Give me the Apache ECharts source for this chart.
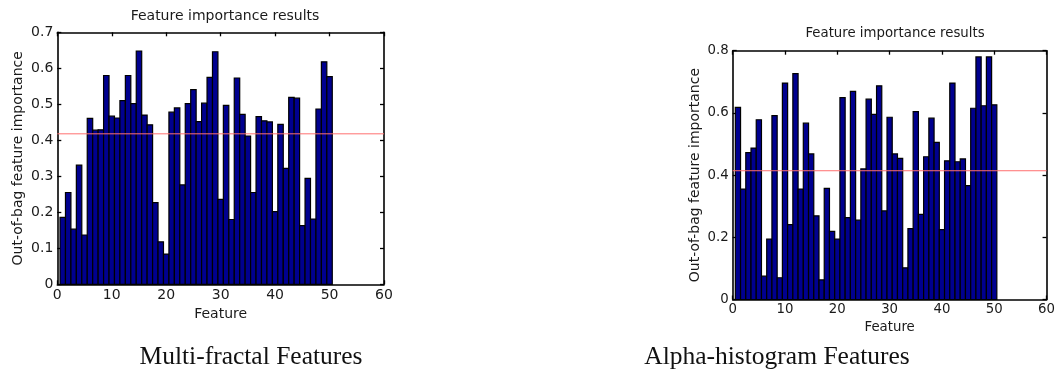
<!DOCTYPE html>
<html>
<head>
<meta charset="utf-8">
<script src="https://cdn.jsdelivr.net/npm/echarts@6/dist/echarts.min.js"></script>
<style>
html,body{margin:0;padding:0;background:#fff;}
#chart{width:1058px;height:372px;}
</style>
</head>
<body>
<div id="chart"></div>
<script>
const features = [1,2,3,4,5,6,7,8,9,10,11,12,13,14,15,16,17,18,19,20,21,22,23,24,25,26,27,28,29,30,31,32,33,34,35,36,37,38,39,40,41,42,43,44,45,46,47,48,49,50];
const multiFractal = [0.186,0.255,0.153,0.331,0.137,0.461,0.428,0.429,0.580,0.467,0.462,0.510,0.580,0.502,0.648,0.470,0.443,0.227,0.118,0.084,0.478,0.490,0.276,0.502,0.541,0.452,0.503,0.575,0.646,0.236,0.497,0.180,0.573,0.472,0.412,0.255,0.466,0.454,0.451,0.202,0.444,0.322,0.519,0.517,0.163,0.294,0.181,0.487,0.618,0.577];
const alphaHist = [0.618,0.355,0.472,0.487,0.578,0.075,0.194,0.591,0.070,0.696,0.241,0.726,0.355,0.567,0.468,0.269,0.063,0.357,0.219,0.194,0.649,0.263,0.669,0.255,0.420,0.644,0.595,0.687,0.285,0.586,0.468,0.454,0.102,0.228,0.604,0.274,0.459,0.583,0.505,0.225,0.446,0.696,0.443,0.452,0.366,0.615,0.780,0.623,0.780,0.626];
const thresholdMF = 0.418;
const thresholdAH = 0.414;
const chartTitle = 'Feature importance results';
const xName = 'Feature';
const yName = 'Out-of-bag feature importance';
const captions = ['Multi-fractal Features', 'Alpha-histogram Features'];
const xRange = [0, 60, 10];
const yRangeMF = [0, 0.7, 0.1];
const yRangeAH = [0, 0.8, 0.2];

const chart = echarts.init(document.getElementById('chart'), null, {renderer: 'canvas'});
const TXT = '#1a1a1a';
const FONT = 'DejaVu Sans';

function renderBar(params, api) {
  const x = api.value(0), y = api.value(1);
  const p0 = api.coord([x - 0.5, y]);
  const p1 = api.coord([x + 0.5, 0]);
  return {
    type: 'rect',
    shape: {x: p0[0], y: p0[1], width: p1[0] - p0[0], height: p1[1] - p0[1]},
    style: {fill: '#00008f', stroke: '#000000', lineWidth: 1.2}
  };
}

function xAx(grid, pos, show, fs) {
  return {
    type: 'value', gridIndex: grid, position: pos,
    min: xRange[0], max: xRange[1], interval: xRange[2],
    axisLine: {show: true, onZero: false, lineStyle: {color: '#000', width: 1.6}},
    axisTick: {show: true, inside: true, length: 4, lineStyle: {color: '#000', width: 1.3}},
    axisLabel: {show: show, margin: 4, color: TXT, fontFamily: FONT, fontSize: fs},
    splitLine: {show: false},
    name: show ? xName : '', nameLocation: 'middle', nameGap: 21,
    nameTextStyle: {color: TXT, fontFamily: FONT, fontSize: fs}
  };
}
function yAx(grid, pos, show, r, fs, gap) {
  return {
    type: 'value', gridIndex: grid, position: pos,
    min: r[0], max: r[1], interval: r[2],
    axisLine: {show: true, onZero: false, lineStyle: {color: '#000', width: 1.6}},
    axisTick: {show: true, inside: true, length: 4, lineStyle: {color: '#000', width: 1.3}},
    axisLabel: {show: show, margin: 4, color: TXT, fontFamily: FONT, fontSize: fs,
      formatter: v => String(+v.toFixed(1))},
    splitLine: {show: false},
    name: show ? yName : '', nameLocation: 'middle', nameGap: gap,
    nameTextStyle: {color: TXT, fontFamily: FONT, fontSize: 14}
  };
}

const option = {
  animation: false,
  backgroundColor: '#ffffff',
  title: [
    {text: chartTitle, left: 220, top: 4, textAlign: 'center',
     textStyle: {color: TXT, fontFamily: FONT, fontSize: 14, fontWeight: 'normal'}},
    {text: chartTitle, left: 890, top: 22, textAlign: 'center',
     textStyle: {color: TXT, fontFamily: FONT, fontSize: 13.3, fontWeight: 'normal'}}
  ],
  grid: [
    {left: 57.3, top: 32.3, width: 326.7, height: 252},
    {left: 732.7, top: 50.7, width: 314.3, height: 248.8}
  ],
  xAxis: [
    xAx(0, 'bottom', true, 14), xAx(0, 'top', false, 14),
    xAx(1, 'bottom', true, 13.3), xAx(1, 'top', false, 13.3)
  ],
  yAxis: [
    yAx(0, 'left', true, yRangeMF, 14, 32), yAx(0, 'right', false, yRangeMF, 14, 32),
    yAx(1, 'left', true, yRangeAH, 13.3, 30), yAx(1, 'right', false, yRangeAH, 13.3, 30)
  ],
  series: [
    {type: 'custom', xAxisIndex: 0, yAxisIndex: 0, renderItem: renderBar,
     encode: {x: 0, y: 1}, data: features.map((f, i) => [f, multiFractal[i]]), z: 2},
    {type: 'line', xAxisIndex: 0, yAxisIndex: 0, symbol: 'none', silent: true,
     lineStyle: {color: '#ff7070', width: 1}, data: [[xRange[0], thresholdMF], [xRange[1], thresholdMF]], z: 5},
    {type: 'custom', xAxisIndex: 2, yAxisIndex: 2, renderItem: renderBar,
     encode: {x: 0, y: 1}, data: features.map((f, i) => [f, alphaHist[i]]), z: 2},
    {type: 'line', xAxisIndex: 2, yAxisIndex: 2, symbol: 'none', silent: true,
     lineStyle: {color: '#ff7070', width: 1}, data: [[xRange[0], thresholdAH], [xRange[1], thresholdAH]], z: 5}
  ],
  graphic: [
    {type: 'text', x: 251, y: 357, style: {text: captions[0], font: '25.5px "Liberation Serif"', fill: '#111', textAlign: 'center', textVerticalAlign: 'middle'}},
    {type: 'text', x: 777, y: 357, style: {text: captions[1], font: '25.5px "Liberation Serif"', fill: '#111', textAlign: 'center', textVerticalAlign: 'middle'}}
  ]
};
chart.setOption(option);
</script>
</body>
</html>
